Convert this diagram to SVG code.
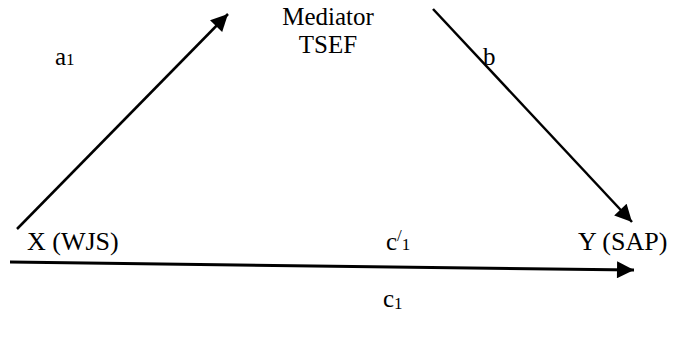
<svg xmlns="http://www.w3.org/2000/svg" width="692" height="343" viewBox="0 0 692 343">
<style>
text{font-family:'Liberation Serif','Times New Roman',serif;font-size:25px;fill:#000}
.big{font-size:26px}
.sub{font-size:17px}
.ln{stroke:#000;stroke-width:2.5;fill:none}
.thick{stroke-width:3}
</style>
<defs>
<marker id="ah" viewBox="0 0 10 10" refX="10" refY="5" markerWidth="20" markerHeight="17" orient="auto" markerUnits="userSpaceOnUse">
<path d="M0,0 L10,5 L0,10 z" fill="#000"/>
</marker>
</defs>
<rect width="692" height="343" fill="#fff"/>
<g id="connectors">
<line class="ln" x1="17" y1="229" x2="228" y2="14" marker-end="url(#ah)"/>
<line class="ln" x1="433" y1="9" x2="632" y2="222" marker-end="url(#ah)"/>
<line class="ln thick" x1="10" y1="262" x2="634" y2="270" marker-end="url(#ah)"/>
</g>
<g id="mediator">
<text x="328" y="25" text-anchor="middle">Mediator</text>
<text x="328" y="53" text-anchor="middle">TSEF</text>
</g>
<g id="x">
<text class="big" x="27" y="250">X (WJS)</text>
</g>
<g id="y">
<text class="big" x="578" y="250">Y (SAP)</text>
</g>
<g id="labels">
<text x="55" y="65">a<tspan class="sub">1</tspan></text>
<text x="483" y="65">b</text>
<text x="386" y="250">c<tspan class="sub" dy="-9">/</tspan><tspan class="sub" dy="9">1</tspan></text>
<text x="383" y="307">c<tspan class="sub" dy="2">1</tspan></text>
</g>
</svg>
